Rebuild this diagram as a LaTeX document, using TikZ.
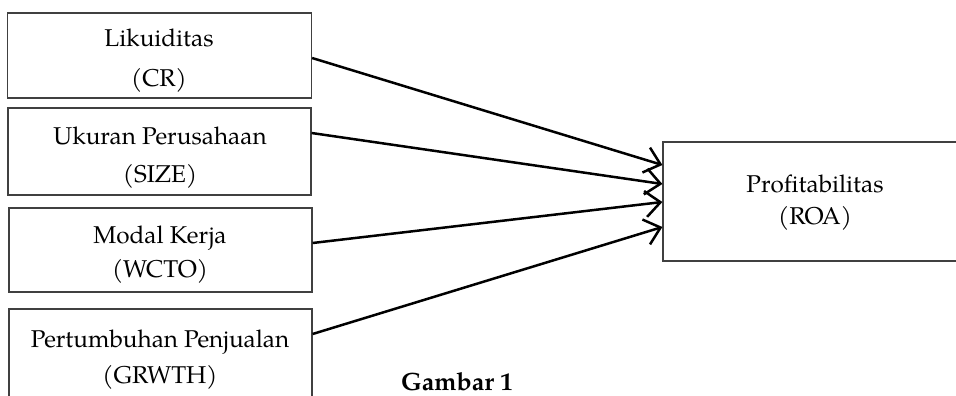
\documentclass[tikz,border=0pt]{standalone}
\usepackage{fontspec}
\setmainfont{TeX Gyre Pagella}
\usetikzlibrary{arrows.meta}
\begin{document}
\begin{tikzpicture}[x=1pt,y=-1pt,
  box/.style={draw=black!75,line width=1.2pt,minimum width=#1,inner sep=0pt},
  txt/.style={anchor=base,inner sep=0pt,font=\fontsize{24.3}{28}\selectfont},
  arr/.style={line width=2.5pt,-{Straight Barb[length=15pt,width=26pt,line width=2.5pt]}}]
\useasboundingbox (0,0) rectangle (956,396);
\clip (0,0) rectangle (956,396);
\node[box=304pt,minimum height=85pt] (b1) at (159.5,55.5) {};
\node[box=303pt,minimum height=87pt] (b2) at (159.5,151.5) {};
\node[box=303pt,minimum height=84pt] (b3) at (160.5,250) {};
\node[box=303pt,minimum height=91pt] (b4) at (160.5,354.5) {};
\node[box=310pt,minimum height=119pt] (r) at (818,201.5) {};
\node[txt] (t1a) at (159,47) {Likuiditas};
\node[txt] (t1b) at (159,86) {(CR)};
\node[txt] (t2a) at (160,144) {Ukuran Perusahaan};
\node[txt] (t2b) at (160,182) {(SIZE)};
\node[txt] (t3a) at (160,243) {Modal Kerja};
\node[txt] (t3b) at (160,277) {(WCTO)};
\node[txt] (t4a) at (160,347) {Pertumbuhan Penjualan};
\node[txt] (t4b) at (160,383) {(GRWTH)};
\node[txt] (tra) at (815,192) {Profitabilitas};
\node[txt] (trb) at (815,224) {(ROA)};
\node[txt,font=\fontsize{25}{30}\selectfont\bfseries] (cap) at (457,390) {Gambar 1};
\draw[arr] ([yshift=-2.5pt]b1.east) -- ([yshift=36.5pt]r.west);
\draw[arr] ([yshift=18.5pt]b2.east) -- ([yshift=17.5pt]r.west);
\draw[arr] ([yshift=7pt]b3.east) -- ([yshift=-0.5pt]r.west);
\draw[arr] ([yshift=20.5pt]b4.east) -- ([yshift=-25.5pt]r.west);
\end{tikzpicture}
\end{document}
